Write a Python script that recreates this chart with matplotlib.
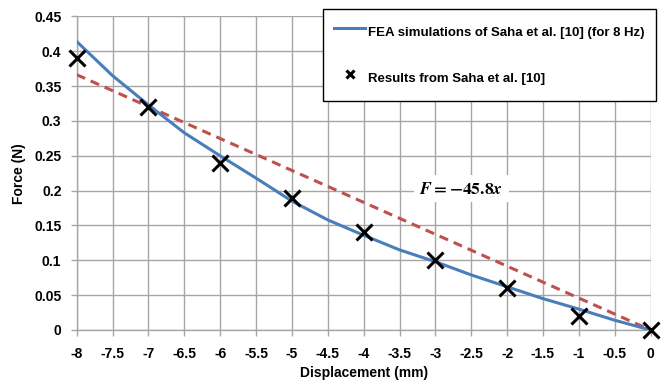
import numpy as np
import matplotlib.pyplot as plt

# FEA curve (blue line)
fea_disp = [-8, -7.5, -7, -6.5, -6, -5.5, -5, -4.5, -4, -3.5, -3, -2.5, -2, -1.5, -1, -0.5, 0]
fea_force = [0.414, 0.365, 0.323, 0.283, 0.250, 0.218, 0.185, 0.158, 0.136, 0.115,
             0.098, 0.079, 0.062, 0.045, 0.030, 0.014, 0.0]

# Saha et al. results (crosses)
saha_disp = [-8, -7, -6, -5, -4, -3, -2, -1, 0]
saha_force = [0.39, 0.32, 0.24, 0.19, 0.14, 0.10, 0.06, 0.02, 0.0]

# linear fit F = -45.8x (x in mm -> m)
stiffness = 45.8
fit_disp = [-8, 0]

x_ticks = np.arange(-8, 0.01, 0.5)
y_ticks = np.arange(0, 0.451, 0.05)

plt.rcParams['font.family'] = ['Liberation Sans', 'DejaVu Sans']
plt.rcParams['font.weight'] = 'bold'
plt.rcParams['mathtext.fontset'] = 'stix'

fig = plt.figure(figsize=(6.7, 3.83), dpi=100)
ax = fig.add_axes([0.1145, 0.1384, 0.8565, 0.8186])

grid_col = '#a6a6a6'
ax.set_xlim(-8, 0)
ax.set_ylim(0, 0.45)
ax.set_xticks(x_ticks)
ax.set_yticks(y_ticks)
ax.set_xticklabels([f'{v:g}' for v in x_ticks], fontweight='bold')
ax.set_yticklabels([f'{v:g}' for v in y_ticks], fontweight='bold')
ax.grid(True, color=grid_col, linewidth=1.0)
ax.set_axisbelow(True)
for s in ['top', 'right']:
    ax.spines[s].set_visible(False)
for s in ['left', 'bottom']:
    ax.spines[s].set_color(grid_col)
    ax.spines[s].set_linewidth(1.0)
ax.tick_params(axis='both', colors=grid_col, length=4, width=1.0, labelsize=10,
               labelcolor='black')
ax.tick_params(axis='x', pad=8)
ax.tick_params(axis='y', pad=7)

fit_force = [-stiffness * d / 1000 for d in fit_disp]
ax.plot(fit_disp, fit_force, color='#c0504d', linewidth=2.2, dashes=(3.0, 2.0), zorder=3)
ax.plot(fea_disp, fea_force, color='#4a7ebb', linewidth=2.2, zorder=4,
        solid_joinstyle='round',
        label='FEA simulations of Saha et al. [10] (for 8 Hz)')
ax.plot(saha_disp, saha_force, linestyle='none', marker='x', color='black',
        markersize=11, markeredgewidth=2.2, zorder=5, clip_on=False,
        label='Results from Saha et al. [10]')

ax.text(-2.64, 0.203, r'$\mathbfit{F}=\mathbf{-45.8}\mathbfit{x}$', fontsize=12.5,
        ha='center', va='center', zorder=2,
        bbox=dict(facecolor='white', edgecolor='none', pad=4))

ax.set_xlabel('Displacement (mm)', fontsize=10, fontweight='bold', labelpad=4)
ax.set_ylabel('Force (N)', fontsize=10, fontweight='bold', labelpad=6)

leg = ax.legend(loc='upper right', bbox_to_anchor=(1.009, 1.025), borderaxespad=0,
                frameon=True, fancybox=False, edgecolor='black', framealpha=1,
                prop={'weight': 'bold', 'size': 9.5}, handlelength=2.3,
                handletextpad=0.25, labelspacing=1.7, borderpad=0.85,
                handleheight=2.4, markerscale=0.5)
leg.get_frame().set_linewidth(1.0)
leg.set_zorder(10)

fig.savefig('out.png', dpi=100)
